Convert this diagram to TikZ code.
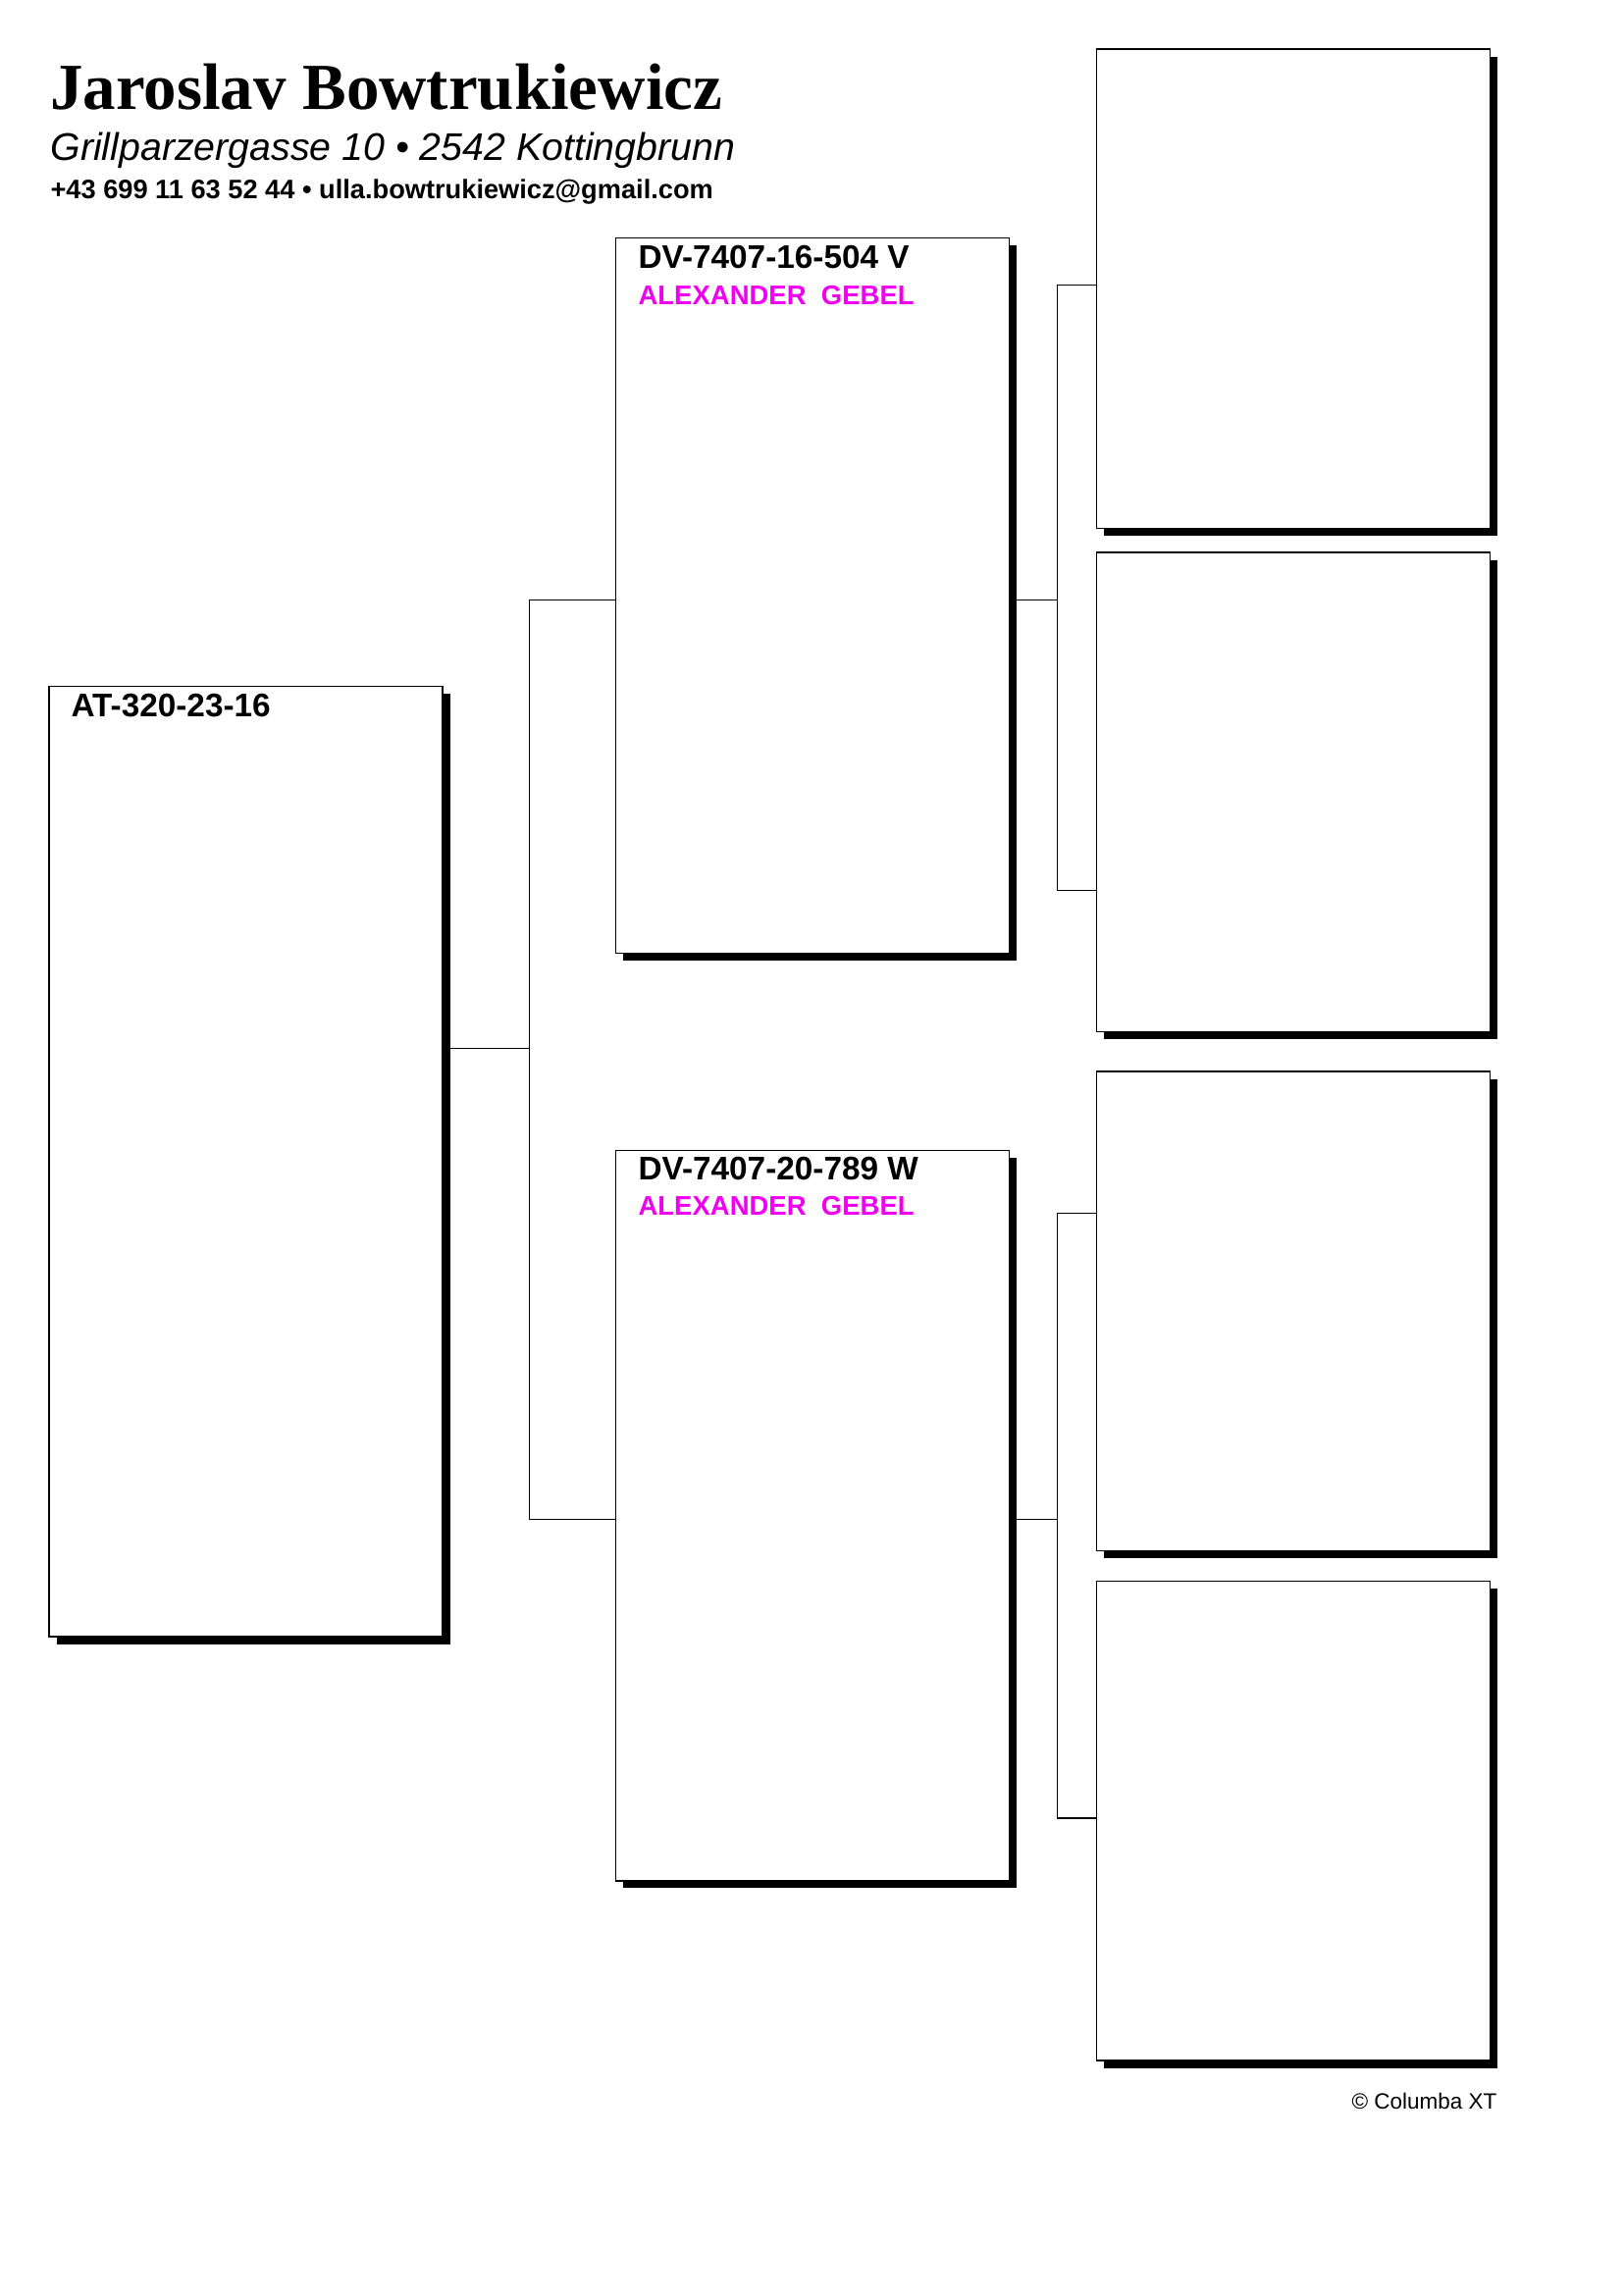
\documentclass[tikz,border=0pt]{standalone}
\usepackage{fontspec}
\setmainfont{Liberation Sans}
\newfontfamily\titlefont{Liberation Serif}
\usepackage{tikz}
\usetikzlibrary{shadows, positioning, calc}
\definecolor{namepink}{RGB}{240,0,240}
\tikzstyle{card} = [draw, fill=white, rectangle, inner sep=0pt, outer sep=0pt, line width=0.5pt, minimum width=144.36pt, drop shadow={shadow xshift=2.7pt, shadow yshift=-2.7pt, fill=black, opacity=1}]
\tikzstyle{ringno} = [anchor=base west, inner sep=0pt, font=\fontsize{12}{14}\selectfont\bfseries]
\tikzstyle{owner} = [anchor=base west, inner sep=0pt, text=namepink, font=\fontsize{9.9}{12}\selectfont\bfseries]
\tikzstyle{link} = [line width=0.45pt]
\newcommand{\headline}[1]{\fontsize{#1}{#1}\selectfont}

\begin{document}
\begin{tikzpicture}[auto, x=0.36pt, y=-0.36pt]
    \useasboundingbox (0,0) rectangle (1654,2339);
    % breeder header
    \node [anchor=base west, inner sep=0pt, font=\titlefont\headline{24.1}\bfseries] (breeder) at (50.7,111.5) {Jaroslav Bowtrukiewicz};
    \node [anchor=base west, inner sep=0pt, font=\headline{14.15}\itshape] (address) at (51,163.3) {Grillparzergasse 10 • 2542 Kottingbrunn};
    \node [anchor=base west, inner sep=0pt, font=\headline{9.8}\bfseries] (contact) at (51,202.7) {+43 699 11 63 52 44 • ulla.bowtrukiewicz@gmail.com};
    % pedigree cards
    \node [card, anchor=north west, minimum height=348.73pt] (bird) at (50,699.3) {};
    \node [card, anchor=north west, minimum height=262.58pt] (sire) at (627.3,242.3) {};
    \node [card, anchor=north west, minimum height=268.02pt] (dam) at (627.3,1172.3) {};
    \node [card, anchor=north west, minimum height=175.86pt] (siresire) at (1117.5,50) {};
    \node [card, below=8.82pt of siresire, minimum height=175.86pt] (siredam) {};
    \node [card, below=14.58pt of siredam, minimum height=175.86pt] (damsire) {};
    \node [card, below=11.16pt of damsire, minimum height=175.86pt] (damdam) {};
    % ring numbers and owners
    \node [ringno] (birdring) at ($(bird.north west)+(22,31.4)$) {AT-320-23-16};
    \node [ringno] (sirering) at ($(sire.north west)+(22.7,31)$) {DV-7407-16-504 V};
    \node [owner] (sireowner) at ($(sire.north west)+(22.7,67.7)$) {ALEXANDER~~GEBEL};
    \node [ringno] (damring) at ($(dam.north west)+(22.7,30)$) {DV-7407-20-789 W};
    \node [owner] (damowner) at ($(dam.north west)+(22.7,66)$) {ALEXANDER~~GEBEL};
    % connectors
    \coordinate (birdjoin) at (539.3,1068.3);
    \coordinate (sirejoin) at (539.3,611.3);
    \coordinate (damjoin) at (539.3,1548.3);
    \draw [link] (bird.east |- birdjoin) -- (birdjoin);
    \draw [link] (sire.west |- sirejoin) -- (sirejoin) -- (damjoin) -- (dam.west |- damjoin);
    \coordinate (sireout) at (1077.3,611.7);
    \coordinate (sstop) at (1077.3,290.5);
    \coordinate (ssbot) at (1077.3,907.3);
    \draw [link] (sire.east |- sireout) -- (sireout);
    \draw [link] (siresire.west |- sstop) -- (sstop) -- (ssbot) -- (siredam.west |- ssbot);
    \coordinate (damout) at (1077.3,1548.3);
    \coordinate (dstop) at (1077.3,1236.3);
    \coordinate (dsbot) at (1077.3,1853);
    \draw [link] (dam.east |- damout) -- (damout);
    \draw [link] (damsire.west |- dstop) -- (dstop) -- (dsbot) -- (damdam.west |- dsbot);
    % footer
    \node [anchor=base east, inner sep=0pt, font=\headline{8.1}] (maker) at (1526,2149) {© Columba XT};
\end{tikzpicture}
\end{document}
